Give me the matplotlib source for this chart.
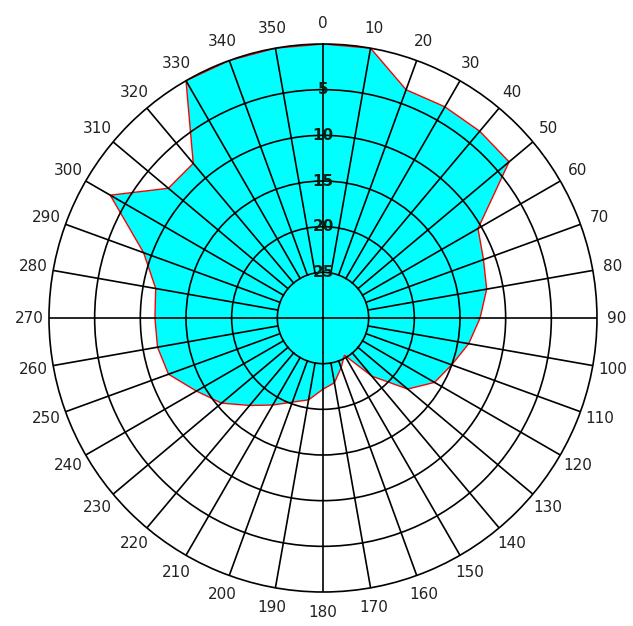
import numpy as np
import matplotlib
matplotlib.use('Agg')
from matplotlib import pyplot as plt

# directions (degrees, clockwise from north) and values
angles = list(range(0, 360, 10))
values = [0.0, 0.0, 3.4, 3.3, 3.3, 3.4, 10.4, 11.3, 11.8, 12.8,
          13.8, 15.0, 15.9, 17.9, 21.7, 25.3, 24.2, 22.8, 22.2, 20.9,
          20.2, 19.0, 17.5, 15.5, 14.0, 12.0, 11.6, 11.6, 11.4, 9.1,
          3.1, 7.9, 7.9, 0.0, 0.0, 0.0]
ring_values = [5, 10, 15, 20, 25]
r_center = 30
r_outer = 0

fig = plt.figure(figsize=(6.33, 6.26), dpi=100)
ax = fig.add_axes([0.0774, 0.0543, 0.8657, 0.8754], projection='polar')
ax.set_theta_zero_location('N')
ax.set_theta_direction(-1)
ax.set_rlim(r_center, r_outer)

theta = np.deg2rad(angles + [angles[0]])
vals = values + [values[0]]
ax.fill(theta, vals, facecolor='#00ffff', edgecolor='red', linewidth=1.0, zorder=1)

# rings
ax.set_rgrids(ring_values, labels=[''] * len(ring_values))
ax.yaxis.grid(True, color='black', linewidth=1.2)
ax.xaxis.grid(False)

# spokes: start at the inner ring, the four main ones cross the centre
for a in angles:
    r0 = r_center if a % 90 == 0 else ring_values[-1]
    ax.plot([np.deg2rad(a)] * 2, [r0, r_outer], color='black', linewidth=1.2, zorder=2)

ax.set_thetagrids(angles, labels=[str(a) for a in angles], fontsize=11, color='#222222')
ax.tick_params(axis='x', pad=4)

for rv in ring_values:
    ax.text(0, rv, str(rv), ha='center', va='center', fontsize=11,
            fontweight='bold', color='#102010', zorder=3)

ax.spines['polar'].set_color('black')
ax.spines['polar'].set_linewidth(1.2)

plt.savefig('out.png', dpi=100)
